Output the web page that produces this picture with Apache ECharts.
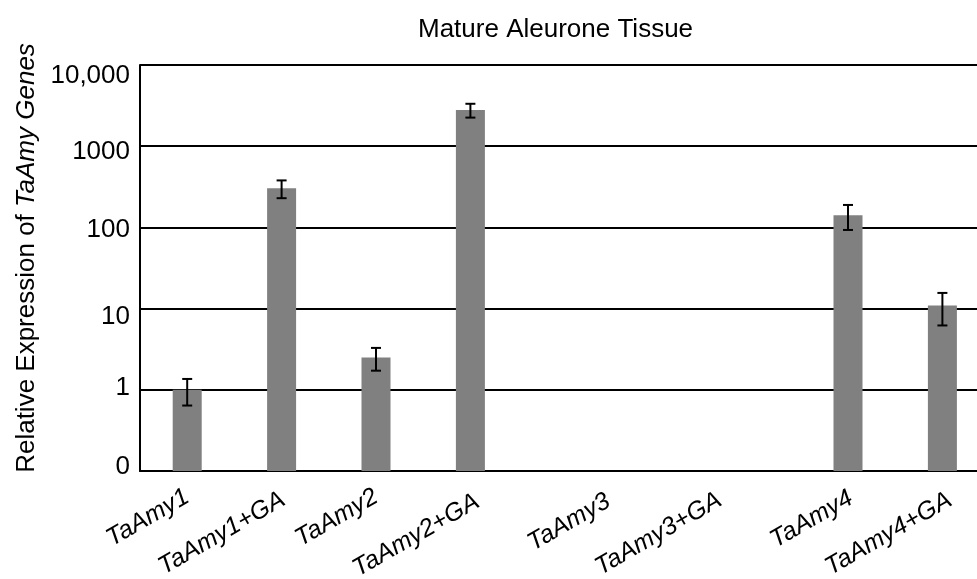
<!DOCTYPE html>
<html><head><meta charset="utf-8">
<script src="https://cdn.jsdelivr.net/npm/echarts@6/dist/echarts.min.js"></script>
<style>html,body{margin:0;padding:0;background:#fff}#c{width:977px;height:579px}</style>
</head><body><div id="c"></div>
<script>
// ---- data ----
const categories = ['TaAmy1', 'TaAmy1+GA', 'TaAmy2', 'TaAmy2+GA', 'TaAmy3', 'TaAmy3+GA', '', 'TaAmy4', 'TaAmy4+GA'];
const means  = [1, 304, 2.5, 2790, null, null, null, 141, 10.9];
const errors = [0.36, 75, 0.78, 540, null, null, null, 48, 4.7];
const yTickLabels = ['0', '1', '10', '100', '1000', '10,000'];
const titleText = 'Mature Aleurone Tissue';

// ---- styling ----
const FONT = 'Liberation Sans, Arial, sans-serif';
// screen-space nudge [dx, dy] of the hand-placed category labels (px)
const labelNudge = {
  'TaAmy1+GA': [1.5, 3], 'TaAmy2+GA': [7, 5], 'TaAmy3': [43.5, 4.5],
  'TaAmy3+GA': [60.5, 3.5], 'TaAmy4': [3, 1.5], 'TaAmy4+GA': [7.5, 3.5]
};
// vertical nudge of the hand-placed value labels (px, + = down)
const yLabelNudge = [-4, -1.5, 8, 2, 6, 11];

const xData = categories.map(function (c) {
  const n = labelNudge[c];
  if (!n) return c;
  const a = 0.866 * n[0] - 0.5 * n[1];   // along the rotated baseline
  const b = 0.5 * n[0] + 0.866 * n[1];   // perpendicular (downwards in text frame)
  return { value: c, textStyle: { padding: [0, -a, 0, 0], verticalAlign: 'top', lineHeight: 2 * b } };
});

const yRich = {};
yLabelNudge.forEach(function (o, i) {
  yRich['t' + i] = {
    fontFamily: FONT, fontSize: 26, color: '#000', lineHeight: 30,
    padding: o > 0 ? [2 * o, 0, 0, 0] : [0, 0, -2 * o, 0]
  };
});

const errData = [];
means.forEach(function (m, i) {
  if (m != null && errors[i] != null) errData.push([i, m - errors[i], m + errors[i]]);
});

const chart = echarts.init(document.getElementById('c'), null, { renderer: 'canvas' });
chart.setOption({
  backgroundColor: '#fff',
  animation: false,
  title: {
    text: titleText, left: 413, top: 12,
    textStyle: { fontFamily: FONT, fontSize: 26, fontWeight: 'normal', color: '#000' }
  },
  grid: { left: 140, top: 65, width: 849.6, height: 406, outerBoundsMode: 'none', containLabel: false },
  xAxis: {
    type: 'category', data: xData,
    axisLine: { show: true, lineStyle: { color: '#000', width: 2 } },
    axisTick: { show: false },
    axisLabel: {
      interval: 0, rotate: 30, margin: 24,
      fontFamily: FONT, fontSize: 25, fontStyle: 'italic', color: '#000'
    }
  },
  yAxis: {
    type: 'log', logBase: 10, min: 0.1, max: 10000, startValue: 0.1,
    name: '{n|Relative Expression of }{i|TaAmy Genes}',
    nameLocation: 'middle', nameGap: 100,
    nameTextStyle: {
      fontFamily: FONT, fontSize: 26, color: '#000', padding: [0, 0, 0, 20],
      rich: {
        n: { fontFamily: FONT, fontSize: 26, color: '#000' },
        i: { fontFamily: FONT, fontSize: 26, color: '#000', fontStyle: 'italic' }
      }
    },
    axisLine: { show: true, lineStyle: { color: '#000', width: 2 } },
    axisTick: { show: false },
    splitLine: { show: true, lineStyle: { color: '#000', width: 2 } },
    axisLabel: {
      margin: 10, fontFamily: FONT, fontSize: 26, color: '#000', rich: yRich,
      formatter: function (v, idx) {
        return yTickLabels[idx] != null ? '{t' + idx + '|' + yTickLabels[idx] + '}' : '';
      }
    }
  },
  series: [
    {
      type: 'bar', data: means, barWidth: 29,
      itemStyle: { color: '#808080' }
    },
    {
      type: 'custom', data: errData, encode: { x: 0, y: [1, 2] }, z: 10,
      renderItem: function (params, api) {
        const lo = api.coord([api.value(0), api.value(1)]);
        const hi = api.coord([api.value(0), api.value(2)]);
        const w = 5;
        const st = { stroke: '#000', lineWidth: 2 };
        return {
          type: 'group', children: [
            { type: 'line', shape: { x1: lo[0], y1: lo[1], x2: hi[0], y2: hi[1] }, style: st },
            { type: 'line', shape: { x1: hi[0] - w, y1: hi[1], x2: hi[0] + w, y2: hi[1] }, style: st },
            { type: 'line', shape: { x1: lo[0] - w, y1: lo[1], x2: lo[0] + w, y2: lo[1] }, style: st }
          ]
        };
      }
    }
  ]
});
</script></body></html>
